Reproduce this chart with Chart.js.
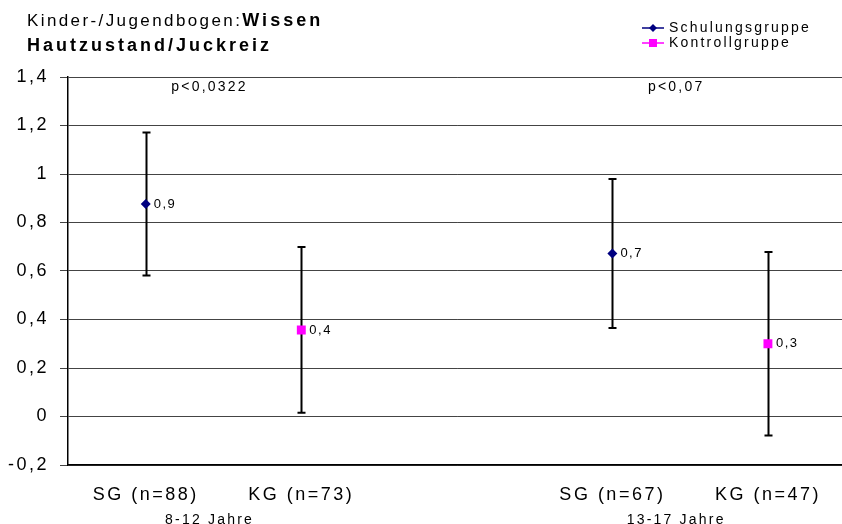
<!DOCTYPE html>
<html><head><meta charset="utf-8">
<script src="https://cdn.jsdelivr.net/npm/chart.js@4/dist/chart.umd.min.js"></script>
<style>html,body{margin:0;padding:0;background:#fff;overflow:hidden}#wrap{width:852px;height:524px;position:relative}</style>
</head><body><div id="wrap"><canvas id="c" width="852" height="524"></canvas></div>
<script>
const categories = ['SG (n=88)', 'KG (n=73)', '', 'SG (n=67)', 'KG (n=47)'];
const ageGroups = ['8-12 Jahre', '', '', '13-17 Jahre', ''];
const pValues = ['p<0,0322', '', '', 'p<0,07', ''];
const sgMeans = [0.876, null, null, 0.672, null];
const sgErrors = [0.295, null, null, 0.307, null];
const sgLabels = ['0,9', '', '', '0,7', ''];
const kgMeans = [null, 0.357, null, null, 0.300];
const kgErrors = [null, 0.342, null, null, 0.378];
const kgLabels = ['', '0,4', '', '', '0,3'];
const yTicks = [-0.2, 0, 0.2, 0.4, 0.6, 0.8, 1, 1.2, 1.4];
const seriesNames = ['Schulungsgruppe', 'Kontrollgruppe'];
const titleLine1 = ['Kinder-/Jugendbogen:', 'Wissen'];
const titleLine2 = 'Hautzustand/Juckreiz';

const FONT = '"Liberation Sans", Arial, sans-serif';
const fmt = v => String(Math.round(v * 10) / 10).replace('.', ',');

const overlay = {
  id: 'overlay',
  beforeDraw(chart) { chart.ctx.letterSpacing = '2.5px'; },
  beforeDatasetsDraw(chart) {
    const ctx = chart.ctx, x = chart.scales.x, y = chart.scales.y;
    ctx.save();
    ctx.strokeStyle = '#000';
    ctx.lineWidth = 2;
    const errs = [[sgMeans, sgErrors], [kgMeans, kgErrors]];
    errs.forEach(([m, e]) => {
      m.forEach((v, i) => {
        if (v === null) return;
        const px = Math.round(x.getPixelForValue(i)) + 0.5;
        const top = y.getPixelForValue(v + e[i]);
        const bot = y.getPixelForValue(v - e[i]);
        ctx.beginPath();
        ctx.moveTo(px, top); ctx.lineTo(px, bot);
        ctx.moveTo(px - 4, top); ctx.lineTo(px + 4, top);
        ctx.moveTo(px - 4, bot); ctx.lineTo(px + 4, bot);
        ctx.stroke();
      });
    });
    ctx.restore();
  },
  afterDraw(chart) {
    const ctx = chart.ctx, x = chart.scales.x, y = chart.scales.y;
    const w = x.getPixelForValue(1) - x.getPixelForValue(0);
    ctx.save();
    ctx.fillStyle = '#000';
    // value labels
    ctx.font = '13px ' + FONT;
    ctx.letterSpacing = '1.5px';
    ctx.textAlign = 'left';
    ctx.textBaseline = 'middle';
    [[sgMeans, sgLabels], [kgMeans, kgLabels]].forEach(([m, l]) => {
      m.forEach((v, i) => {
        if (v === null) return;
        ctx.fillText(l[i], x.getPixelForValue(i) + 8, y.getPixelForValue(v));
      });
    });
    // p-values and age groups
    ctx.font = '14px ' + FONT;
    ctx.letterSpacing = '2.2px';
    ctx.textAlign = 'center';
    ctx.textBaseline = 'top';
    pValues.forEach((t, i) => {
      if (!t) return;
      ctx.fillText(t, x.getPixelForValue(i) + 0.41 * w, y.getPixelForValue(1.4) + 3);
    });
    ageGroups.forEach((t, i) => {
      if (!t) return;
      ctx.fillText(t, x.getPixelForValue(i) + 0.41 * w, 513);
    });
    // legend
    const cols = ['#000080', '#ff00ff'];
    seriesNames.forEach((n, k) => {
      const ly = 28 + k * 15;
      ctx.strokeStyle = cols[k];
      ctx.lineWidth = 1.5;
      ctx.beginPath(); ctx.moveTo(642, ly); ctx.lineTo(664, ly); ctx.stroke();
      ctx.fillStyle = cols[k];
      ctx.beginPath();
      if (k === 0) {
        ctx.moveTo(653, ly - 4); ctx.lineTo(657, ly); ctx.lineTo(653, ly + 4); ctx.lineTo(649, ly);
      } else {
        ctx.rect(649, ly - 4, 8, 8);
      }
      ctx.fill();
      ctx.fillStyle = '#000';
      ctx.textAlign = 'left';
      ctx.textBaseline = 'middle';
      ctx.fillText(n, 669, ly);
    });
    // title
    ctx.textAlign = 'left';
    ctx.textBaseline = 'alphabetic';
    ctx.font = '17px ' + FONT;
    ctx.letterSpacing = '2.4px';
    ctx.fillText(titleLine1[0], 27, 26);
    const w1 = ctx.measureText(titleLine1[0]).width;
    ctx.font = 'bold 18px ' + FONT;
    ctx.letterSpacing = '3px';
    ctx.fillText(titleLine1[1], 27 + w1, 26);
    ctx.fillText(titleLine2, 27, 51);
    ctx.restore();
  }
};

new Chart(document.getElementById('c'), {
  type: 'line',
  data: {
    labels: categories,
    datasets: [
      { label: seriesNames[0], data: sgMeans, showLine: false, pointStyle: 'rectRot', pointRadius: 5, pointHoverRadius: 5,
        backgroundColor: '#000080', borderColor: '#000080', pointBorderWidth: 0 },
      { label: seriesNames[1], data: kgMeans, showLine: false, pointStyle: 'rect', pointRadius: 6.3, pointHoverRadius: 6.3,
        backgroundColor: '#ff00ff', borderColor: '#ff00ff', pointBorderWidth: 0 }
    ]
  },
  options: {
    responsive: false,
    animation: false,
    events: [],
    layout: { padding: { top: 77, right: 0, bottom: 0, left: 0 } },
    plugins: { legend: { display: false }, tooltip: { enabled: false }, title: { display: false } },
    scales: {
      x: {
        type: 'category', offset: true,
        grid: { display: false, drawTicks: false },
        border: { color: '#000', width: 1.5 },
        ticks: { font: { family: FONT, size: 18 }, color: '#000', padding: 19, maxRotation: 0, autoSkip: false },
        afterFit: s => { s.height = 59; }
      },
      y: {
        min: -0.2, max: 1.4,
        afterBuildTicks: s => { s.ticks = yTicks.map(v => ({ value: v })); },
        ticks: { callback: v => fmt(v), font: { family: FONT, size: 18 }, color: '#000', padding: 11 },
        grid: { color: '#444', lineWidth: 1, tickLength: 8, drawTicks: true },
        border: { color: '#000', width: 1.5 },
        afterFit: s => { s.width = 68; }
      }
    }
  },
  plugins: [overlay]
});
</script>
</body></html>
